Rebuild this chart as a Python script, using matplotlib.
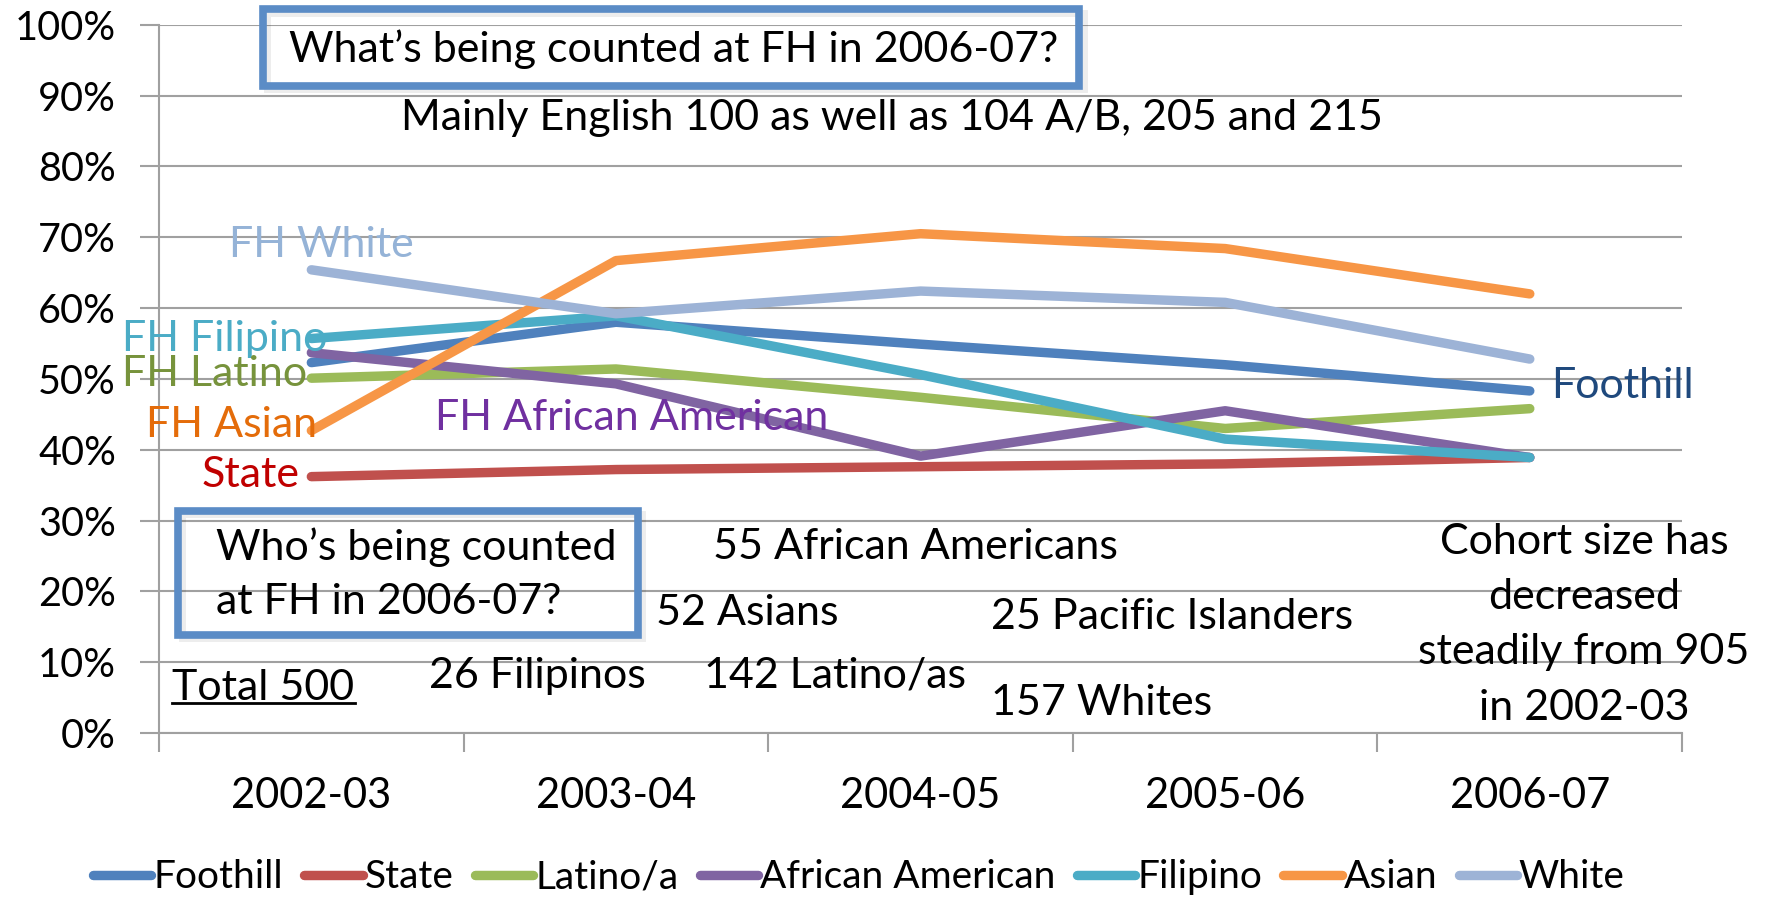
import matplotlib.pyplot as plt
from matplotlib.patches import Rectangle
from matplotlib.lines import Line2D

plt.rcParams['font.family'] = ['Lato', 'DejaVu Sans']

# Success rates (%) by cohort year
years = ['2002-03', '2003-04', '2004-05', '2005-06', '2006-07']
foothill = [52.3, 58.0, 54.9, 52.0, 48.3]
state = [36.2, 37.2, 37.6, 38.0, 38.9]
latino = [50.1, 51.4, 47.4, 43.0, 45.8]
african_american = [53.7, 49.3, 39.1, 45.5, 38.9]
filipino = [55.7, 58.9, 50.6, 41.5, 38.9]
asian = [42.7, 66.7, 70.5, 68.4, 62.0]
white = [65.4, 59.2, 62.4, 60.8, 52.8]

names = ['Foothill', 'State', 'Latino/a', 'African American', 'Filipino', 'Asian', 'White']
series = [foothill, state, latino, african_american, filipino, asian, white]
colors = ['#4F81BD', '#C0504D', '#9BBB59', '#8064A2', '#4BACC6', '#F79646', '#9DB3D6']

fs = 31      # annotation text
x = list(range(len(years)))

fig = plt.figure(figsize=(17.71, 8.97), dpi=100)
ax = fig.add_axes([0.0898, 0.1828, 0.860, 0.7896])

for vals, name, c in zip(series, names, colors):
    ax.plot(x, vals, color=c, lw=6.8, solid_capstyle='round', label=name, zorder=3)

ax.set_xlim(-0.5, 4.5)
ax.set_ylim(0, 100)
ax.set_yticks(range(0, 101, 10))
ax.set_yticklabels(['%d%%' % v for v in range(0, 101, 10)], fontsize=28.5)
ax.set_xticks(x)
ax.set_xticklabels(years, fontsize=30)
ax.set_xticks([i - 0.5 for i in range(6)], minor=True)
ax.tick_params(axis='x', which='major', length=0, pad=32)
ax.tick_params(axis='x', which='minor', length=14, color='#A0A0A0', width=1.5)
ax.tick_params(axis='y', length=14, color='#A0A0A0', width=1.5, pad=17)
ax.grid(axis='y', color='#A0A0A0', lw=1.5)
ax.set_axisbelow(True)
for s in ['top', 'right']:
    ax.spines[s].set_visible(False)
for s in ['left', 'bottom']:
    ax.spines[s].set_color('#A0A0A0')
    ax.spines[s].set_linewidth(1.5)

# series labels
ax.text(-0.271, 68.9, 'FH White', color='#95B3D7', fontsize=fs, va='center')
ax.text(-0.623, 55.7, 'FH Filipino', color='#4BACC6', fontsize=fs, va='center', zorder=4)
ax.text(-0.623, 50.7, 'FH Latino', color='#77933C', fontsize=fs, va='center', zorder=4)
ax.text(-0.542, 43.5, 'FH Asian', color='#E46C0A', fontsize=fs, va='center', zorder=4)
ax.text(0.405, 44.5, 'FH African American', color='#7030A0', fontsize=fs, va='center', zorder=4)
ax.text(-0.04, 36.4, 'State', color='#C00000', fontsize=fs, va='center', ha='right')
ax.text(4.07, 49.0, 'Foothill', color='#1F497D', fontsize=fs, va='center')

# annotation boxes
box_kw = dict(fill=False, ec='#5B8CC6', lw=5.5, clip_on=False, zorder=5)
shadow_kw = dict(fill=False, ec='#000000', lw=5, alpha=0.07, clip_on=False, zorder=4)
ax.add_patch(Rectangle((-0.145, 90.9), 2.68, 10.8, **shadow_kw))
ax.add_patch(Rectangle((-0.16, 91.4), 2.68, 10.8, **box_kw))
ax.text(1.19, 96.5, 'What\u2019s being counted at FH in 2006-07?', fontsize=fs, ha='center', va='center', zorder=6)
ax.text(1.907, 86.9, 'Mainly English 100 as well as 104 A/B, 205 and 215', fontsize=fs, ha='center', va='center')

ax.add_patch(Rectangle((-0.423, 13.4), 1.51, 17.5, **shadow_kw))
ax.add_patch(Rectangle((-0.438, 13.9), 1.51, 17.5, **box_kw))
ax.text(-0.312, 26.3, 'Who\u2019s being counted', fontsize=fs, va='center')
ax.text(-0.312, 18.5, 'at FH in 2006-07?', fontsize=fs, va='center')

ax.text(1.317, 26.3, '55 African Americans', fontsize=fs, va='center')
ax.text(1.132, 16.9, '52 Asians', fontsize=fs, va='center')
ax.text(0.386, 8.0, '26 Filipinos', fontsize=fs, va='center')
ax.text(1.288, 8.1, '142 Latino/as', fontsize=fs, va='center')
ax.text(2.23, 16.4, '25 Pacific Islanders', fontsize=fs, va='center')
ax.text(2.23, 4.3, '157 Whites', fontsize=fs, va='center')
total = ax.text(-0.456, 6.4, 'Total 500', fontsize=fs, va='center')
ax.text(4.178, 15.3, 'Cohort size has\ndecreased\nsteadily from 905\nin 2002-03',
        fontsize=fs, ha='center', va='center', linespacing=1.56)

fig.legend(loc='center', bbox_to_anchor=(0.485, 0.022), ncol=7, frameon=False,
           fontsize=28, handlelength=1.5, handletextpad=0.05, columnspacing=0.55)

# underline "Total 500"
fig.canvas.draw()
bb = total.get_window_extent().transformed(fig.transFigure.inverted())
fig.add_artist(Line2D([bb.x0, bb.x1], [bb.y0 + 0.004, bb.y0 + 0.004], color='black', lw=2,
                      transform=fig.transFigure))

plt.savefig('out.png', dpi=100)
